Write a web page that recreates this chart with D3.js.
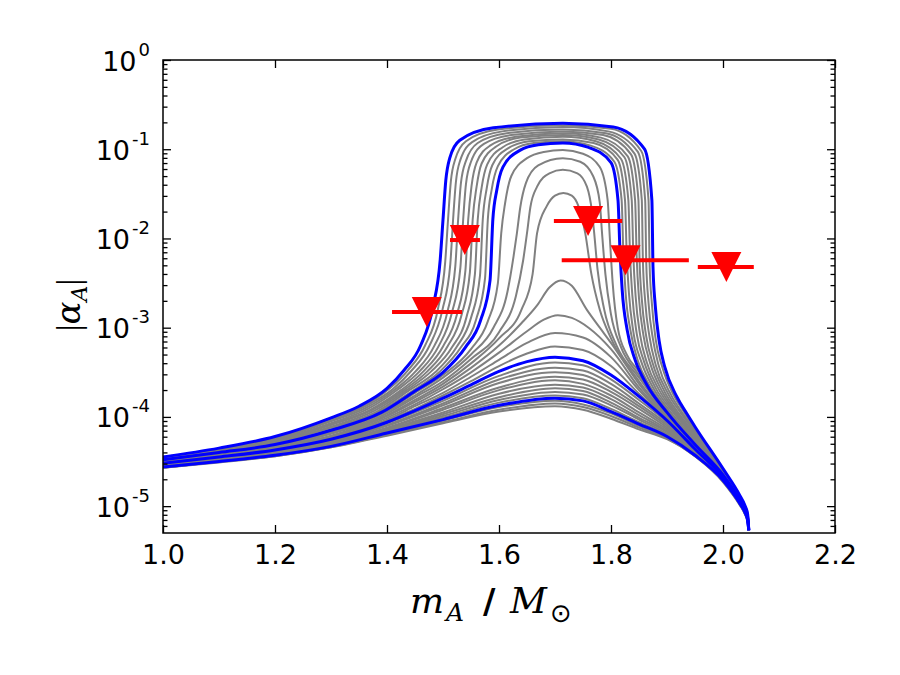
<!DOCTYPE html>
<html>
<head>
<meta charset="utf-8">
<script src="https://cdn.jsdelivr.net/npm/d3@7"></script>
<style>
  body { margin: 0; background: #ffffff; }
  svg { display: block; }
</style>
</head>
<body>
<svg id="chart" width="900" height="675"></svg>
<script>
// ---------------- DATA ----------------
// x: neutron-star mass m_A / M_sun ; values: log10 |alpha_A|
const X_TICKS = [1.0, 1.2, 1.4, 1.6, 1.8, 2.0, 2.2];
const Y_TICK_EXPONENTS = [0, -1, -2, -3, -4, -5];

// shared mass grid for the low (bell-shaped) family
const lowX = [1.0, 1.1, 1.2, 1.3, 1.4, 1.5, 1.6, 1.7, 1.75, 1.8, 1.85, 1.9, 1.95, 2.0, 2.03, 2.039, 2.044, 2.046];

// grey curves of the low family (log10 |alpha_A| on lowX)
const lowGrey1 = [-4.57,-4.51,-4.44,-4.34,-4.21,-4.07,-3.94,-3.88,-3.92,-4.02,-4.14,-4.25,-4.44,-4.73,-4.99,-5.09,-5.18,-5.27];
const lowGrey2 = [-4.57,-4.50,-4.44,-4.34,-4.20,-4.06,-3.92,-3.85,-3.89,-3.99,-4.12,-4.24,-4.44,-4.72,-4.98,-5.08,-5.17,-5.27];
const lowGrey3 = [-4.57,-4.50,-4.43,-4.33,-4.19,-4.04,-3.89,-3.82,-3.86,-3.96,-4.10,-4.23,-4.43,-4.72,-4.98,-5.08,-5.17,-5.27];
const lowGrey4 = [-4.56,-4.49,-4.42,-4.32,-4.17,-4.01,-3.84,-3.76,-3.79,-3.91,-4.06,-4.20,-4.42,-4.71,-4.97,-5.07,-5.16,-5.27];
const lowGrey5 = [-4.56,-4.49,-4.42,-4.32,-4.16,-3.99,-3.81,-3.72,-3.75,-3.87,-4.03,-4.19,-4.42,-4.71,-4.97,-5.07,-5.16,-5.27];
const lowGrey6 = [-4.55,-4.48,-4.41,-4.31,-4.15,-3.97,-3.78,-3.68,-3.71,-3.84,-4.01,-4.17,-4.41,-4.70,-4.96,-5.06,-5.15,-5.27];
const lowGrey7 = [-4.55,-4.48,-4.41,-4.30,-4.14,-3.95,-3.74,-3.64,-3.67,-3.80,-3.98,-4.16,-4.41,-4.70,-4.96,-5.06,-5.15,-5.27];
const lowGrey8 = [-4.54,-4.48,-4.40,-4.29,-4.13,-3.92,-3.70,-3.59,-3.63,-3.76,-3.95,-4.14,-4.40,-4.70,-4.96,-5.06,-5.15,-5.27];
const lowGrey9 = [-4.54,-4.47,-4.40,-4.29,-4.12,-3.90,-3.67,-3.55,-3.58,-3.72,-3.91,-4.12,-4.39,-4.69,-4.96,-5.06,-5.15,-5.27];
const lowGrey10 = [-4.53,-4.47,-4.39,-4.28,-4.10,-3.87,-3.62,-3.50,-3.53,-3.68,-3.88,-4.10,-4.39,-4.69,-4.96,-5.06,-5.15,-5.27];
const lowGrey11 = [-4.53,-4.46,-4.39,-4.27,-4.09,-3.85,-3.58,-3.45,-3.48,-3.63,-3.85,-4.08,-4.38,-4.69,-4.95,-5.05,-5.14,-5.27];
const lowGrey12 = [-4.52,-4.46,-4.38,-4.26,-4.07,-3.82,-3.54,-3.39,-3.42,-3.58,-3.81,-4.06,-4.37,-4.68,-4.95,-5.05,-5.14,-5.27];
const blue1 = [-4.56,-4.50,-4.43,-4.33,-4.18,-4.03,-3.87,-3.79,-3.82,-3.94,-4.08,-4.22,-4.43,-4.71,-4.97,-5.07,-5.16,-5.27];

// curves given as [mass, log10 |alpha_A|] pairs
const blue2 = [[1.0,-4.52],[1.1,-4.45],[1.2,-4.37],[1.3,-4.25],[1.4,-4.06],[1.45,-3.93],[1.5,-3.79],[1.55,-3.64],[1.6,-3.49],[1.65,-3.38],[1.70,-3.33],[1.75,-3.37],[1.8,-3.53],[1.85,-3.77],[1.9,-4.04],[1.95,-4.36],[2.0,-4.68],[2.03,-4.95],[2.039,-5.05],[2.044,-5.14],[2.046,-5.27]];

const midGrey1 = [[1.0,-4.52],[1.1,-4.44],[1.2,-4.36],[1.3,-4.24],[1.4,-4.04],[1.45,-3.91],[1.5,-3.76],[1.55,-3.60],[1.6,-3.43],[1.65,-3.29],[1.70,-3.21],[1.75,-3.25],[1.8,-3.43],[1.85,-3.74],[1.9,-4.03],[1.95,-4.35],[2.0,-4.68],[2.03,-4.95],[2.039,-5.05],[2.044,-5.14],[2.046,-5.27]];
const midGrey2 = [[1.0,-4.51],[1.1,-4.44],[1.2,-4.36],[1.3,-4.23],[1.4,-4.03],[1.45,-3.88],[1.5,-3.73],[1.55,-3.55],[1.6,-3.36],[1.65,-3.17],[1.70,-3.06],[1.75,-3.11],[1.8,-3.33],[1.85,-3.70],[1.9,-4.02],[1.95,-4.35],[2.0,-4.67],[2.03,-4.95],[2.039,-5.05],[2.044,-5.14],[2.046,-5.27]];
const midGrey3 = [[1.0,-4.51],[1.1,-4.43],[1.2,-4.35],[1.3,-4.22],[1.4,-4.01],[1.45,-3.86],[1.5,-3.69],[1.55,-3.50],[1.6,-3.28],[1.65,-3.04],[1.68,-2.91],[1.705,-2.86],[1.73,-2.89],[1.76,-3.00],[1.8,-3.24],[1.85,-3.67],[1.9,-4.01],[1.95,-4.34],[2.0,-4.67],[2.03,-4.94],[2.039,-5.04],[2.044,-5.13],[2.046,-5.27]];
const midGrey4 = [[1.0,-4.50],[1.1,-4.43],[1.2,-4.34],[1.3,-4.21],[1.4,-3.99],[1.45,-3.83],[1.5,-3.66],[1.55,-3.45],[1.6,-3.20],[1.64,-2.95],[1.668,-2.75],[1.69,-2.55],[1.71,-2.47],[1.73,-2.53],[1.757,-2.80],[1.78,-3.00],[1.80,-3.17],[1.85,-3.63],[1.9,-4.00],[1.95,-4.34],[2.0,-4.67],[2.03,-4.94],[2.039,-5.04],[2.044,-5.13],[2.046,-5.27]];
const midGrey5 = [[1.0,-4.50],[1.1,-4.42],[1.2,-4.34],[1.3,-4.19],[1.4,-3.98],[1.45,-3.81],[1.5,-3.63],[1.55,-3.40],[1.6,-3.12],[1.64,-2.80],[1.66,-2.40],[1.668,-1.94],[1.685,-1.64],[1.700,-1.52],[1.715,-1.49],[1.730,-1.52],[1.742,-1.64],[1.754,-1.94],[1.765,-2.40],[1.78,-2.80],[1.80,-3.12],[1.85,-3.60],[1.9,-3.99],[1.95,-4.33],[2.0,-4.66],[2.03,-4.94],[2.039,-5.04],[2.044,-5.13],[2.046,-5.27]];
const midGrey6 = [[1.0,-4.49],[1.1,-4.42],[1.2,-4.33],[1.3,-4.18],[1.4,-3.96],[1.45,-3.78],[1.5,-3.60],[1.55,-3.35],[1.6,-3.05],[1.63,-2.65],[1.643,-2.25],[1.65,-1.94],[1.656,-1.65],[1.668,-1.42],[1.69,-1.27],[1.714,-1.23],[1.74,-1.27],[1.757,-1.42],[1.766,-1.70],[1.770,-1.94],[1.776,-2.35],[1.788,-2.80],[1.81,-3.20],[1.85,-3.56],[1.9,-3.98],[1.95,-4.33],[2.0,-4.66],[2.03,-4.94],[2.039,-5.04],[2.044,-5.13],[2.046,-5.27]];
const midGrey7 = [[1.0,-4.49],[1.1,-4.41],[1.2,-4.32],[1.3,-4.17],[1.4,-3.94],[1.45,-3.76],[1.5,-3.56],[1.55,-3.30],[1.59,-3.00],[1.615,-2.60],[1.626,-2.20],[1.632,-1.94],[1.638,-1.65],[1.648,-1.38],[1.67,-1.18],[1.714,-1.10],[1.745,-1.14],[1.768,-1.30],[1.780,-1.60],[1.784,-1.94],[1.790,-2.40],[1.800,-2.85],[1.818,-3.22],[1.85,-3.53],[1.9,-3.97],[1.95,-4.32],[2.0,-4.66],[2.03,-4.93],[2.039,-5.03],[2.044,-5.12],[2.046,-5.27]];
const midGrey8 = [[1.0,-4.48],[1.1,-4.40],[1.2,-4.32],[1.3,-4.16],[1.4,-3.93],[1.45,-3.73],[1.5,-3.53],[1.55,-3.24],[1.58,-2.93],[1.598,-2.50],[1.604,-1.94],[1.611,-1.60],[1.622,-1.30],[1.65,-1.10],[1.68,-1.03],[1.714,-1.01],[1.75,-1.05],[1.78,-1.20],[1.794,-1.57],[1.798,-2.00],[1.803,-2.50],[1.812,-3.00],[1.828,-3.30],[1.85,-3.49],[1.9,-3.96],[1.95,-4.32],[2.0,-4.65],[2.03,-4.93],[2.039,-5.03],[2.044,-5.12],[2.046,-5.27]];

const blue3 = [[1.0,-4.48],[1.1,-4.40],[1.2,-4.31],[1.3,-4.15],[1.39,-3.95],[1.45,-3.71],[1.50,-3.50],[1.54,-3.22],[1.567,-2.92],[1.584,-2.47],[1.589,-1.79],[1.596,-1.46],[1.607,-1.20],[1.638,-1.01],[1.670,-0.95],[1.714,-0.93],[1.760,-0.98],[1.800,-1.15],[1.8125,-1.57],[1.816,-2.13],[1.820,-2.58],[1.829,-3.03],[1.843,-3.36],[1.864,-3.64],[1.90,-3.95],[1.95,-4.31],[2.0,-4.65],[2.03,-4.93],[2.039,-5.03],[2.044,-5.12],[2.046,-5.27]];

const upGrey1 = [[1.0,-4.48],[1.1,-4.40],[1.2,-4.30],[1.3,-4.14],[1.386,-3.94],[1.445,-3.71],[1.493,-3.50],[1.532,-3.22],[1.559,-2.91],[1.575,-2.45],[1.580,-1.79],[1.587,-1.45],[1.598,-1.19],[1.627,-1.00],[1.662,-0.93],[1.714,-0.91],[1.764,-0.96],[1.806,-1.14],[1.819,-1.57],[1.822,-2.15],[1.826,-2.60],[1.835,-3.04],[1.848,-3.37],[1.869,-3.65],[1.904,-3.95],[1.95,-4.29],[2.0,-4.64],[2.03,-4.93],[2.039,-5.03],[2.044,-5.12],[2.046,-5.27]];
const upGrey2 = [[1.0,-4.47],[1.1,-4.39],[1.2,-4.29],[1.3,-4.12],[1.382,-3.94],[1.44,-3.70],[1.486,-3.50],[1.524,-3.22],[1.550,-2.89],[1.566,-2.42],[1.571,-1.79],[1.578,-1.44],[1.588,-1.18],[1.616,-0.99],[1.654,-0.91],[1.714,-0.89],[1.769,-0.93],[1.812,-1.12],[1.825,-1.57],[1.828,-2.17],[1.832,-2.61],[1.840,-3.05],[1.854,-3.38],[1.875,-3.67],[1.907,-3.95],[1.95,-4.27],[2.0,-4.64],[2.03,-4.92],[2.039,-5.02],[2.044,-5.11],[2.046,-5.27]];
const upGrey3 = [[1.0,-4.47],[1.1,-4.39],[1.2,-4.28],[1.3,-4.11],[1.378,-3.93],[1.435,-3.70],[1.479,-3.49],[1.516,-3.22],[1.542,-2.88],[1.557,-2.40],[1.562,-1.79],[1.569,-1.43],[1.579,-1.17],[1.606,-0.98],[1.646,-0.89],[1.714,-0.86],[1.773,-0.91],[1.818,-1.11],[1.831,-1.57],[1.834,-2.19],[1.838,-2.63],[1.846,-3.07],[1.859,-3.38],[1.880,-3.68],[1.911,-3.95],[1.95,-4.25],[2.0,-4.63],[2.03,-4.92],[2.039,-5.02],[2.044,-5.11],[2.046,-5.27]];
const upGrey4 = [[1.0,-4.47],[1.1,-4.38],[1.2,-4.27],[1.3,-4.09],[1.374,-3.92],[1.43,-3.70],[1.472,-3.49],[1.508,-3.21],[1.533,-2.86],[1.548,-2.38],[1.553,-1.79],[1.560,-1.42],[1.569,-1.16],[1.595,-0.97],[1.638,-0.87],[1.714,-0.84],[1.778,-0.89],[1.824,-1.09],[1.837,-1.57],[1.840,-2.21],[1.844,-2.65],[1.852,-3.08],[1.864,-3.39],[1.886,-3.70],[1.914,-3.95],[1.95,-4.23],[2.0,-4.62],[2.03,-4.91],[2.039,-5.01],[2.044,-5.11],[2.046,-5.27]];
const upGrey5 = [[1.0,-4.47],[1.1,-4.38],[1.2,-4.27],[1.3,-4.08],[1.37,-3.92],[1.425,-3.70],[1.465,-3.49],[1.50,-3.21],[1.525,-2.85],[1.540,-2.36],[1.545,-1.79],[1.551,-1.41],[1.560,-1.15],[1.584,-0.96],[1.630,-0.86],[1.714,-0.82],[1.782,-0.87],[1.830,-1.08],[1.843,-1.57],[1.846,-2.23],[1.850,-2.67],[1.858,-3.09],[1.870,-3.40],[1.891,-3.71],[1.918,-3.96],[1.95,-4.21],[2.0,-4.62],[2.03,-4.91],[2.039,-5.01],[2.044,-5.10],[2.046,-5.27]];
const upGrey6 = [[1.0,-4.46],[1.1,-4.37],[1.2,-4.26],[1.3,-4.07],[1.366,-3.91],[1.42,-3.69],[1.458,-3.49],[1.492,-3.21],[1.516,-2.83],[1.531,-2.33],[1.536,-1.79],[1.541,-1.39],[1.550,-1.14],[1.573,-0.94],[1.622,-0.84],[1.714,-0.80],[1.786,-0.84],[1.836,-1.06],[1.849,-1.57],[1.851,-2.24],[1.855,-2.68],[1.863,-3.10],[1.875,-3.41],[1.896,-3.72],[1.921,-3.96],[1.95,-4.19],[2.0,-4.61],[2.03,-4.90],[2.039,-5.01],[2.044,-5.10],[2.046,-5.27]];
const upGrey7 = [[1.0,-4.46],[1.1,-4.37],[1.2,-4.25],[1.3,-4.05],[1.362,-3.90],[1.415,-3.69],[1.451,-3.49],[1.484,-3.21],[1.508,-2.82],[1.522,-2.31],[1.527,-1.79],[1.532,-1.38],[1.541,-1.13],[1.562,-0.93],[1.614,-0.82],[1.714,-0.78],[1.791,-0.82],[1.842,-1.05],[1.855,-1.57],[1.857,-2.26],[1.861,-2.70],[1.869,-3.11],[1.880,-3.42],[1.902,-3.74],[1.925,-3.96],[1.95,-4.17],[2.0,-4.60],[2.03,-4.90],[2.039,-5.00],[2.044,-5.10],[2.046,-5.27]];
const upGrey8 = [[1.0,-4.46],[1.1,-4.36],[1.2,-4.24],[1.3,-4.04],[1.358,-3.89],[1.41,-3.69],[1.444,-3.48],[1.476,-3.20],[1.499,-2.80],[1.513,-2.29],[1.518,-1.79],[1.523,-1.37],[1.531,-1.12],[1.552,-0.92],[1.606,-0.80],[1.714,-0.75],[1.795,-0.80],[1.848,-1.03],[1.861,-1.57],[1.863,-2.28],[1.867,-2.72],[1.875,-3.13],[1.885,-3.42],[1.907,-3.75],[1.928,-3.96],[1.95,-4.15],[2.0,-4.59],[2.03,-4.89],[2.039,-5.00],[2.044,-5.09],[2.046,-5.27]];
const upGrey9 = [[1.0,-4.45],[1.1,-4.36],[1.2,-4.23],[1.3,-4.02],[1.354,-3.89],[1.405,-3.68],[1.437,-3.48],[1.468,-3.20],[1.491,-2.79],[1.504,-2.26],[1.509,-1.79],[1.514,-1.36],[1.522,-1.11],[1.541,-0.91],[1.598,-0.78],[1.714,-0.73],[1.800,-0.77],[1.854,-1.02],[1.867,-1.57],[1.869,-2.30],[1.873,-2.73],[1.880,-3.14],[1.891,-3.43],[1.913,-3.77],[1.932,-3.96],[1.95,-4.13],[2.0,-4.59],[2.03,-4.89],[2.039,-4.99],[2.044,-5.09],[2.046,-5.27]];

const blue4 = [[1.0,-4.45],[1.1,-4.35],[1.2,-4.22],[1.3,-4.01],[1.35,-3.88],[1.40,-3.68],[1.43,-3.48],[1.46,-3.20],[1.482,-2.77],[1.495,-2.24],[1.500,-1.79],[1.505,-1.35],[1.512,-1.10],[1.530,-0.90],[1.590,-0.76],[1.714,-0.71],[1.804,-0.75],[1.860,-1.00],[1.873,-1.57],[1.875,-2.32],[1.879,-2.75],[1.886,-3.15],[1.896,-3.44],[1.918,-3.78],[1.935,-3.96],[1.95,-4.11],[2.0,-4.58],[2.03,-4.88],[2.039,-4.99],[2.044,-5.09],[2.046,-5.27]];

// pulsar upper limits (red triangles with mass error bars)
const limitMass   = [1.471, 1.539, 1.759, 1.826, 2.006];
const limitAlpha  = [1.50e-3, 9.6e-3, 1.57e-2, 5.7e-3, 4.8e-3];
const limitMassLo = [1.409, 1.5125, 1.698, 1.712, 1.955];
const limitMassHi = [1.534, 1.566, 1.820, 1.939, 2.055];

// ---------------- CHART ----------------
const svg = d3.select("#chart");
const L = 163, R = 835, T = 60, B = 533;
const x = d3.scaleLinear().domain([1.0, 2.2]).range([L, R]);
const y = d3.scaleLog().domain([5e-6, 1]).range([B, T]);

svg.append("rect").attr("width", 900).attr("height", 675).attr("fill", "#fff");

svg.append("clipPath").attr("id", "plotclip")
  .append("rect").attr("x", L).attr("y", T).attr("width", R - L).attr("height", B - T);

const plot = svg.append("g").attr("clip-path", "url(#plotclip)");

const line = d3.line()
  .x(d => x(d[0]))
  .y(d => y(Math.pow(10, d[1])))
  .curve(d3.curveMonotoneX);

const onGrid = vals => vals.map((v, i) => [lowX[i], v]);

const greyCurves = [
  lowGrey1, lowGrey2, lowGrey3, lowGrey4, lowGrey5, lowGrey6,
  lowGrey7, lowGrey8, lowGrey9, lowGrey10, lowGrey11, lowGrey12
].map(onGrid).concat([
  midGrey1, midGrey2, midGrey3, midGrey4, midGrey5, midGrey6, midGrey7, midGrey8,
  upGrey1, upGrey2, upGrey3, upGrey4, upGrey5, upGrey6, upGrey7, upGrey8, upGrey9
]);
const blueCurves = [onGrid(blue1), blue2, blue3, blue4];

plot.selectAll("path.grey").data(greyCurves).enter().append("path")
  .attr("class", "grey")
  .attr("d", line)
  .attr("fill", "none")
  .attr("stroke", "#808080")
  .attr("stroke-width", 2);

plot.selectAll("path.blue").data(blueCurves).enter().append("path")
  .attr("class", "blue")
  .attr("d", line)
  .attr("fill", "none")
  .attr("stroke", "#0000ff")
  .attr("stroke-width", 3);

// limits
const limits = limitMass.map((m, i) => ({ m, a: limitAlpha[i], lo: limitMassLo[i], hi: limitMassHi[i] }));
const lim = svg.append("g");
lim.selectAll("line").data(limits).enter().append("line")
  .attr("x1", d => x(d.lo)).attr("x2", d => x(d.hi))
  .attr("y1", d => y(d.a)).attr("y2", d => y(d.a))
  .attr("stroke", "#ff0000").attr("stroke-width", 4);
const S = 15;
lim.selectAll("path").data(limits).enter().append("path")
  .attr("d", d => {
    const cx = x(d.m), cy = y(d.a);
    return `M${cx - S},${cy - S}L${cx + S},${cy - S}L${cx},${cy + S}Z`;
  })
  .attr("fill", "#ff0000");

// ---------------- AXES ----------------
const yMajor = Y_TICK_EXPONENTS.map(e => Math.pow(10, e));
const yMinor = [];
for (let e = -6; e < 0; e++) {
  for (let k = 2; k < 10; k++) {
    const v = k * Math.pow(10, e);
    if (v >= 5e-6 && v < 1) yMinor.push(v);
  }
}
const fontFam = "'DejaVu Sans', sans-serif";

function styleAxis(g) {
  g.select(".domain").remove();
  g.selectAll(".tick line").attr("stroke", "#000").attr("stroke-width", 1.3);
}

// bottom
const gB = svg.append("g").attr("transform", `translate(0,${B})`)
  .call(d3.axisBottom(x).tickValues(X_TICKS).tickSizeInner(-8).tickSizeOuter(0)
    .tickPadding(12).tickFormat(d3.format(".1f")));
styleAxis(gB);
gB.selectAll(".tick text").style("font-family", fontFam).style("font-size", "27px").attr("fill", "#000");

// top
const gT = svg.append("g").attr("transform", `translate(0,${T})`)
  .call(d3.axisTop(x).tickValues(X_TICKS).tickSizeInner(-8).tickSizeOuter(0).tickFormat(() => ""));
styleAxis(gT);

// left major with 10^n labels
const gL = svg.append("g").attr("transform", `translate(${L},0)`)
  .call(d3.axisLeft(y).tickValues(yMajor).tickSizeInner(-8).tickSizeOuter(0).tickPadding(13).tickFormat(() => ""));
styleAxis(gL);
gL.selectAll(".tick text").each(function (d, i) {
  const t = d3.select(this);
  t.text(null).attr("dy", "0.37em").attr("fill", "#000")
    .style("font-family", fontFam).style("font-size", "27px");
  t.append("tspan").text("10");
  t.append("tspan").attr("dy", -15).attr("dx", 2).style("font-size", "18px")
    .text(String(Y_TICK_EXPONENTS[i]));
});
const gLm = svg.append("g").attr("transform", `translate(${L},0)`)
  .call(d3.axisLeft(y).tickValues(yMinor).tickSizeInner(-4.5).tickSizeOuter(0).tickFormat(() => ""));
styleAxis(gLm);

// right
const gR = svg.append("g").attr("transform", `translate(${R},0)`)
  .call(d3.axisRight(y).tickValues(yMajor).tickSizeInner(-8).tickSizeOuter(0).tickFormat(() => ""));
styleAxis(gR);
const gRm = svg.append("g").attr("transform", `translate(${R},0)`)
  .call(d3.axisRight(y).tickValues(yMinor).tickSizeInner(-4.5).tickSizeOuter(0).tickFormat(() => ""));
styleAxis(gRm);

// frame
svg.append("rect").attr("x", L).attr("y", T).attr("width", R - L).attr("height", B - T)
  .attr("fill", "none").attr("stroke", "#000").attr("stroke-width", 1.5);

// axis labels
const serif = "'DejaVu Serif', 'Liberation Serif', serif";
const xl = svg.append("text").attr("y", 613).attr("fill", "#000")
  .style("font-family", serif).style("font-size", "36px");
xl.append("tspan").attr("x", 410).style("font-style", "italic").text("m");
xl.append("tspan").attr("x", 446).attr("dy", 8).style("font-style", "italic").style("font-size", "25px").text("A");
xl.append("tspan").attr("x", 483).attr("dy", -8).style("font-family", fontFam).style("font-weight", "bold").style("font-size", "34px").text("/");
xl.append("tspan").attr("x", 510).style("font-style", "italic").text("M");
xl.append("tspan").attr("x", 550).attr("dy", 9).style("font-family", fontFam).style("font-size", "26px").text("\u2299");

const yl = svg.append("text").attr("transform", "translate(80,305) rotate(-90)")
  .attr("text-anchor", "middle").attr("fill", "#000")
  .style("font-family", "'Liberation Serif', serif").style("font-size", "34px");
yl.append("tspan").text("|");
yl.append("tspan").style("font-style", "italic").style("font-family", serif).text("\u03B1");
yl.append("tspan").attr("dy", 7).style("font-style", "italic").style("font-family", serif).style("font-size", "22px").text("A");
yl.append("tspan").attr("dy", -7).text("|");
</script>
</body>
</html>
